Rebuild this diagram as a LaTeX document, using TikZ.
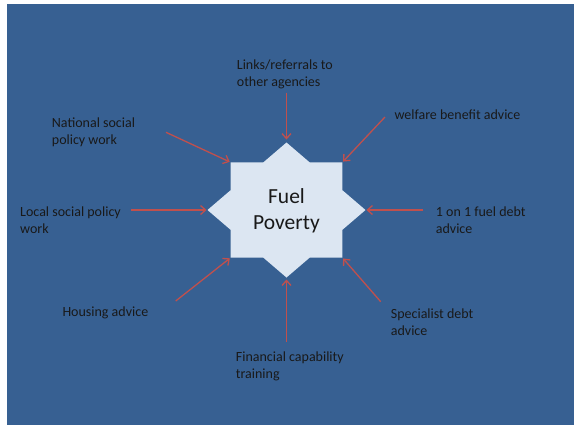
\documentclass[tikz,border=0pt]{standalone}
\usepackage{fontspec}
\setmainfont{Carlito}
\usetikzlibrary{arrows.meta}
\definecolor{bgblue}{HTML}{376092}
\definecolor{starfill}{HTML}{DCE6F2}
\definecolor{arrred}{HTML}{C0504D}
\begin{document}
\begin{tikzpicture}[x=1pt,y=-1pt,
  lbl/.style={font=\fontsize{14}{17}\selectfont, text=black!90, align=left, inner sep=0pt, anchor=base west},
  arrowline/.style={draw=arrred, line width=1.3pt, -{Straight Barb[length=5pt,width=9pt]}, shorten >=1pt}]
\useasboundingbox (0,0) rectangle (576,426);
\fill[bgblue] (7,4) rectangle (574,425);
% star vertices
\coordinate (oN) at (286.5,142.5);
\coordinate (oNE) at (342.4,162.3);
\coordinate (oE) at (365.5,210);
\coordinate (oSE) at (342.4,257.7);
\coordinate (oS) at (286.5,277.5);
\coordinate (oSW) at (230.6,257.7);
\coordinate (oW) at (207.5,210);
\coordinate (oNW) at (230.6,162.3);
\fill[starfill] (oN) -- (309.6,162.3) -- (oNE) -- (342.4,190.2) -- (oE) -- (342.4,229.8) -- (oSE)
  -- (309.6,257.7) -- (oS) -- (263.4,257.7) -- (oSW) -- (230.6,229.8) -- (oW) -- (230.6,190.2)
  -- (oNW) -- (263.4,162.3) -- cycle;
\node[font=\fontsize{21.5}{26}\selectfont, align=center, inner sep=0pt, text=black!90] (fp) at (286.5,211) {Fuel\\Poverty};
% labels (base anchor = baseline of last line)
\node[lbl] (links) at (236.7,86) {Links/referrals to\\other agencies};
\node[lbl] (welfare) at (394.3,119) {welfare benefit advice};
\node[lbl] (one) at (435.7,233.5) {1 on 1 fuel debt\\advice};
\node[lbl] (spec) at (390.7,335.3) {Specialist debt\\advice};
\node[lbl] (fin) at (235.7,378) {Financial capability\\training};
\node[lbl] (house) at (62.3,316) {Housing advice};
\node[lbl] (local) at (20,233) {Local social policy\\work};
\node[lbl] (nat) at (51.7,144) {National social\\policy work};
% arrow starts
\coordinate (sN) at (286.5,92.7);
\coordinate (sNE) at (385,117);
\coordinate (sE) at (423.3,210);
\coordinate (sSE) at (380.7,301.7);
\coordinate (sS) at (286.5,341.7);
\coordinate (sSW) at (175.7,301);
\coordinate (sW) at (130.7,210);
\coordinate (sNW) at (166,132.3);
\draw[arrowline, shorten >=3pt] (sN) -- (oN);
\draw[arrowline] (sNE) -- (oNE);
\draw[arrowline] (sE) -- (oE);
\draw[arrowline] (sSE) -- (oSE);
\draw[arrowline, shorten >=2pt] (sS) -- (oS);
\draw[arrowline] (sSW) -- (oSW);
\draw[arrowline] (sW) -- (oW);
\draw[arrowline] (sNW) -- (oNW);
\end{tikzpicture}
\end{document}
